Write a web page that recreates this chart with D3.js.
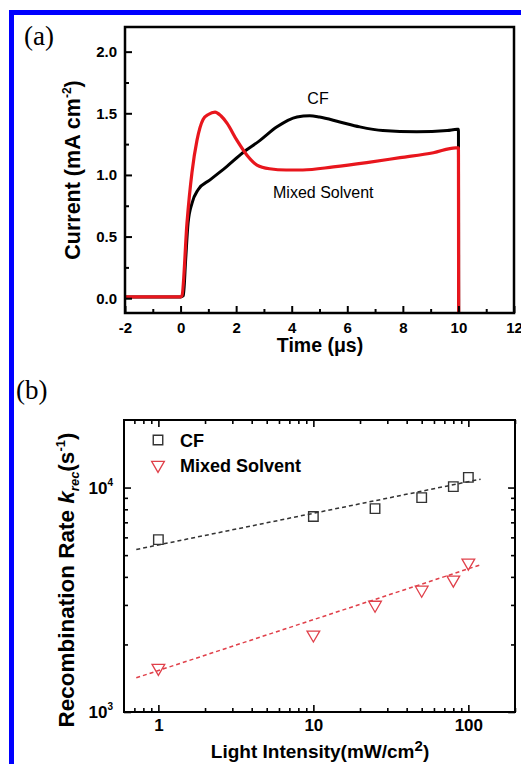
<!DOCTYPE html>
<html>
<head>
<meta charset="utf-8">
<script src="https://cdn.jsdelivr.net/npm/d3@7"></script>
<style>
  body { margin: 0; background: #fff; }
  svg text { font-family: "Liberation Sans", Arial, sans-serif; }
</style>
</head>
<body>
<svg id="fig" width="521" height="764"></svg>
<script>
//-------- data, panel (a): transient photocurrent --------
var timeCF = [-2, -1, 0, 0.1, 0.18, 0.27, 0.41, 0.63, 1.06, 1.67, 2.24, 2.86, 3.47, 4.19, 4.65, 5.0, 5.73, 6.45, 7.28, 8.5, 9.6, 9.95, 10.0, 10.01, 12];
var currentCF = [0.01, 0.01, 0.01, 0.02, 0.3, 0.61, 0.77, 0.88, 0.96, 1.07, 1.18, 1.28, 1.39, 1.47, 1.48, 1.47, 1.43, 1.39, 1.36, 1.35, 1.36, 1.37, 1.37, -0.14, -0.14];
var timeMS = [-2, -1, 0, 0.05, 0.23, 0.41, 0.59, 0.81, 1.0, 1.24, 1.45, 1.67, 2.03, 2.39, 2.75, 3.2, 3.8, 4.4, 5.5, 6.7, 7.9, 9.1, 9.9, 10.0, 10.01, 12];
var currentMS = [0.01, 0.01, 0.01, 0.02, 0.61, 1.02, 1.28, 1.45, 1.49, 1.51, 1.48, 1.42, 1.28, 1.16, 1.08, 1.05, 1.04, 1.04, 1.065, 1.10, 1.14, 1.18, 1.22, 1.22, -0.14, -0.14];
var timeTicks = [-2, 0, 2, 4, 6, 8, 10, 12];
var timeMinor = [-1, 1, 3, 5, 7, 9, 11];
var currentTicks = [0, 0.5, 1.0, 1.5, 2.0];
var currentMinor = [0.25, 0.75, 1.25, 1.75];

//-------- data, panel (b): recombination rate vs light intensity --------
var intensity = [1, 10, 25, 50, 80, 100];
var krecCF = [5860, 7430, 8060, 9020, 10100, 11100];
var krecMS = [1570, 2210, 3000, 3500, 3880, 4620];
var fitIntensity = [0.72, 120];
var fitCF = [5300, 10900];
var fitMS = [1420, 4530];
var intensityTicks = [1, 10, 100];
var intensityMinor = [0.7, 0.8, 0.9, 2, 3, 4, 5, 6, 7, 8, 9, 20, 30, 40, 50, 60, 70, 80, 90, 200];
var krecTicks = [1000, 10000];
var krecMinor = [2000, 3000, 4000, 5000, 6000, 7000, 8000, 9000];

var red = '#e8161d';
var svg = d3.select('#fig');

// blue frame of the figure
svg.append('rect').attr('x', 9).attr('y', 10).attr('width', 5).attr('height', 754).attr('fill', '#0000ff');
svg.append('rect').attr('x', 9).attr('y', 10).attr('width', 512).attr('height', 5).attr('fill', '#0000ff');

//-------- panel (a) --------
var xA = d3.scaleLinear().domain([-2, 12]).range([125, 514]);
var yA = d3.scaleLinear().domain([-0.12, 2.2]).range([313, 27]);

svg.append('clipPath').attr('id', 'clipA').append('rect')
  .attr('x', 125).attr('y', 27).attr('width', 389).attr('height', 286);

var lineA = d3.line().x(function(d) { return xA(d[0]); }).y(function(d) { return yA(d[1]); }).curve(d3.curveMonotoneX);
var gA = svg.append('g').attr('clip-path', 'url(#clipA)');
gA.append('path').datum(d3.zip(timeCF, currentCF)).attr('d', lineA)
  .attr('fill', 'none').attr('stroke', '#000').attr('stroke-width', 3).attr('stroke-linejoin', 'round');
gA.append('path').datum(d3.zip(timeMS, currentMS)).attr('d', lineA)
  .attr('fill', 'none').attr('stroke', red).attr('stroke-width', 3.2).attr('stroke-linejoin', 'round');

// axes of (a): ticks inward, only bottom and left
svg.append('g').attr('transform', 'translate(0,313)')
  .call(d3.axisBottom(xA).tickValues(timeMinor).tickFormat('').tickSize(-4).tickSizeOuter(0))
  .call(function(g) { g.select('.domain').remove(); g.selectAll('line').attr('stroke-width', 2); });
svg.append('g').attr('transform', 'translate(0,313)')
  .call(d3.axisBottom(xA).tickValues(timeTicks).tickFormat(function(d) { return String(d); }).tickSize(-7).tickSizeOuter(0).tickPadding(9))
  .call(function(g) {
    g.select('.domain').remove();
    g.selectAll('line').attr('stroke-width', 2);
    g.selectAll('text').attr('font-size', 15).attr('font-weight', 'bold').attr('fill', '#000')
      .style('font-family', '"Liberation Sans", Arial, sans-serif');
  });
svg.append('g').attr('transform', 'translate(125,0)')
  .call(d3.axisLeft(yA).tickValues(currentMinor).tickFormat('').tickSize(-4).tickSizeOuter(0))
  .call(function(g) { g.select('.domain').remove(); g.selectAll('line').attr('stroke-width', 2); });
svg.append('g').attr('transform', 'translate(125,0)')
  .call(d3.axisLeft(yA).tickValues(currentTicks).tickFormat(d3.format('.1f')).tickSize(-7).tickSizeOuter(0).tickPadding(8))
  .call(function(g) {
    g.select('.domain').remove();
    g.selectAll('line').attr('stroke-width', 2);
    g.selectAll('text').attr('font-size', 15).attr('font-weight', 'bold').attr('fill', '#000')
      .style('font-family', '"Liberation Sans", Arial, sans-serif');
  });
svg.append('rect').attr('x', 125).attr('y', 27).attr('width', 389).attr('height', 286)
  .attr('fill', 'none').attr('stroke', '#000').attr('stroke-width', 2.5);

svg.append('text').attr('x', 320).attr('y', 352).attr('text-anchor', 'middle')
  .attr('font-size', 19.5).attr('font-weight', 'bold').text('Time (\u03bcs)');
var yLabA = svg.append('text').attr('transform', 'translate(80,170) rotate(-90)')
  .attr('text-anchor', 'middle').attr('font-size', 21.5).attr('font-weight', 'bold');
yLabA.append('tspan').text('Current (mA cm');
yLabA.append('tspan').attr('font-size', 12).attr('dy', -9).text('-2');
yLabA.append('tspan').attr('dy', 9).text(')');

svg.append('text').attr('x', 318).attr('y', 104).attr('text-anchor', 'middle').attr('font-size', 16).text('CF');
svg.append('text').attr('x', 273).attr('y', 198).attr('font-size', 16).text('Mixed Solvent');
svg.append('text').attr('x', 24).attr('y', 45).attr('font-size', 27)
  .style('font-family', '"Liberation Serif", "Times New Roman", serif').text('(a)');

//-------- panel (b) --------
var xB = d3.scaleLog().domain([0.6, 200]).range([124, 515]);
var yB = d3.scaleLog().domain([1000, 20000]).range([712, 420]);

function tickStyle(g) {
  g.select('.domain').remove();
  g.selectAll('line').attr('stroke-width', 1.6);
}
// minor and major ticks on all four sides, inward
svg.append('g').attr('transform', 'translate(0,712)')
  .call(d3.axisBottom(xB).tickValues(intensityMinor).tickFormat('').tickSize(-4).tickSizeOuter(0)).call(tickStyle);
svg.append('g').attr('transform', 'translate(0,420)')
  .call(d3.axisTop(xB).tickValues(intensityMinor).tickFormat('').tickSize(-4).tickSizeOuter(0)).call(tickStyle);
svg.append('g').attr('transform', 'translate(0,420)')
  .call(d3.axisTop(xB).tickValues(intensityTicks).tickFormat('').tickSize(-7).tickSizeOuter(0)).call(tickStyle);
svg.append('g').attr('transform', 'translate(0,712)')
  .call(d3.axisBottom(xB).tickValues(intensityTicks).tickFormat(d3.format('d')).tickSize(-7).tickSizeOuter(0).tickPadding(7))
  .call(tickStyle)
  .call(function(g) {
    g.selectAll('text').attr('font-size', 17).attr('font-weight', 'bold').attr('fill', '#000')
      .style('font-family', '"Liberation Sans", Arial, sans-serif');
  });
svg.append('g').attr('transform', 'translate(124,0)')
  .call(d3.axisLeft(yB).tickValues(krecMinor).tickFormat('').tickSize(-4).tickSizeOuter(0)).call(tickStyle);
svg.append('g').attr('transform', 'translate(515,0)')
  .call(d3.axisRight(yB).tickValues(krecMinor).tickFormat('').tickSize(-4).tickSizeOuter(0)).call(tickStyle);
svg.append('g').attr('transform', 'translate(515,0)')
  .call(d3.axisRight(yB).tickValues(krecTicks).tickFormat('').tickSize(-7).tickSizeOuter(0)).call(tickStyle);
svg.append('g').attr('transform', 'translate(124,0)')
  .call(d3.axisLeft(yB).tickValues(krecTicks).tickFormat('').tickSize(-7).tickSizeOuter(0)).call(tickStyle);

// power-of-ten labels on the y axis
krecTicks.forEach(function(v) {
  var t = svg.append('text').attr('x', 113).attr('y', yB(v) + 6).attr('text-anchor', 'end')
    .attr('font-size', 17).attr('font-weight', 'bold');
  t.append('tspan').text('10');
  t.append('tspan').attr('font-size', 10).attr('dy', -8).text(Math.round(Math.log10(v)));
});

svg.append('rect').attr('x', 124).attr('y', 420).attr('width', 391).attr('height', 292)
  .attr('fill', 'none').attr('stroke', '#000').attr('stroke-width', 2);

var lineB = d3.line().x(function(d) { return xB(d[0]); }).y(function(d) { return yB(d[1]); });
svg.append('path').datum(d3.zip(fitIntensity, fitCF)).attr('d', lineB)
  .attr('fill', 'none').attr('stroke', '#333').attr('stroke-width', 1.5).attr('stroke-dasharray', '4,3');
svg.append('path').datum(d3.zip(fitIntensity, fitMS)).attr('d', lineB)
  .attr('fill', 'none').attr('stroke', '#e0404a').attr('stroke-width', 1.5).attr('stroke-dasharray', '4,3');

var sq = d3.symbol().type(d3.symbolSquare).size(90);
var tri = d3.symbol().type(d3.symbolTriangle).size(70);
svg.append('g').selectAll('path').data(d3.zip(intensity, krecCF)).enter().append('path')
  .attr('d', sq).attr('transform', function(d) { return 'translate(' + xB(d[0]) + ',' + yB(d[1]) + ')'; })
  .attr('fill', 'none').attr('stroke', '#333').attr('stroke-width', 1.4);
svg.append('g').selectAll('path').data(d3.zip(intensity, krecMS)).enter().append('path')
  .attr('d', tri).attr('transform', function(d) { return 'translate(' + xB(d[0]) + ',' + yB(d[1]) + ') rotate(180)'; })
  .attr('fill', 'none').attr('stroke', '#e0404a').attr('stroke-width', 1.3);

// legend
svg.append('path').attr('d', sq).attr('transform', 'translate(158,440)')
  .attr('fill', 'none').attr('stroke', '#333').attr('stroke-width', 1.4);
svg.append('path').attr('d', tri).attr('transform', 'translate(158,465) rotate(180)')
  .attr('fill', 'none').attr('stroke', '#e0404a').attr('stroke-width', 1.3);
svg.append('text').attr('x', 180).attr('y', 447).attr('font-size', 18).attr('font-weight', 'bold').text('CF');
svg.append('text').attr('x', 180).attr('y', 472).attr('font-size', 18).attr('font-weight', 'bold').text('Mixed Solvent');

// axis titles of (b)
var xLabB = svg.append('text').attr('x', 320).attr('y', 758).attr('text-anchor', 'middle')
  .attr('font-size', 19).attr('font-weight', 'bold');
xLabB.append('tspan').text('Light Intensity(mW/cm');
xLabB.append('tspan').attr('font-size', 15).attr('dy', -7).text('2');
xLabB.append('tspan').attr('dy', 7).text(')');

var yLabB = svg.append('text').attr('transform', 'translate(74,580) rotate(-90)')
  .attr('text-anchor', 'middle').attr('font-size', 22.5).attr('font-weight', 'bold');
yLabB.append('tspan').text('Recombination Rate ');
yLabB.append('tspan').attr('font-style', 'italic').text('k');
yLabB.append('tspan').attr('font-style', 'italic').attr('font-size', 13).attr('dy', 5).text('rec');
yLabB.append('tspan').attr('dy', -5).text('(s');
yLabB.append('tspan').attr('font-size', 13).attr('dy', -9).text('-1');
yLabB.append('tspan').attr('dy', 9).text(')');

svg.append('text').attr('x', 16).attr('y', 399).attr('font-size', 27)
  .style('font-family', '"Liberation Serif", "Times New Roman", serif').text('(b)');
</script>
</body>
</html>
